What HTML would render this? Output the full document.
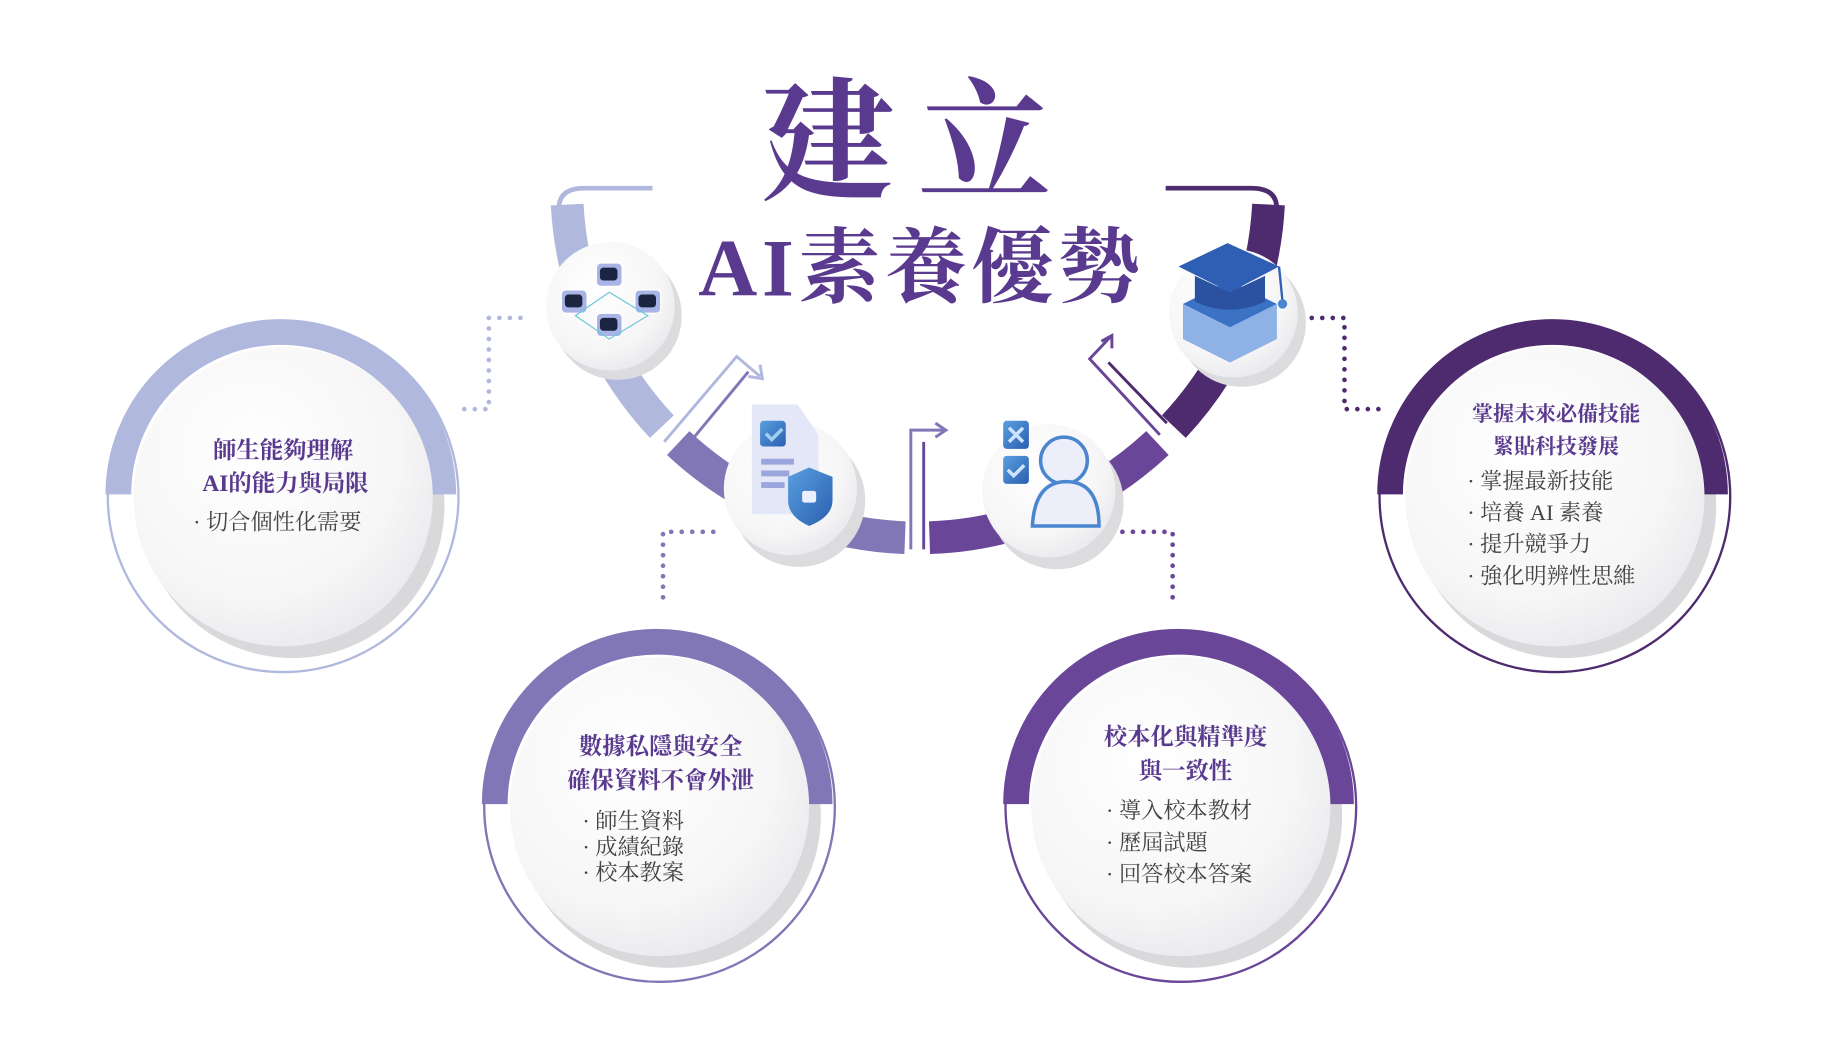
<!DOCTYPE html>
<html><head><meta charset="utf-8"><style>
html,body{margin:0;padding:0;background:#fff;}
svg{display:block}
.t{font-family:"Liberation Serif","Noto Serif CJK SC","Noto Serif CJK TC",serif;font-weight:700;fill:#5a3a8f;text-anchor:middle}
.b{font-family:"Liberation Serif","Noto Serif CJK SC","Noto Serif CJK TC",serif;fill:#444;font-size:19px}
</style></head><body>
<svg width="1824" height="1059" viewBox="0 0 1560 906" xmlns="http://www.w3.org/2000/svg">
<defs>
<radialGradient id="wg" cx="40%" cy="35%" r="70%"><stop offset="0" stop-color="#ffffff"/><stop offset="0.7" stop-color="#f6f6f7"/><stop offset="1" stop-color="#e9e9ec"/></radialGradient>
<linearGradient id="bl" x1="0" y1="0" x2="1" y2="1"><stop offset="0" stop-color="#5aa0e0"/><stop offset="1" stop-color="#2a5eb0"/></linearGradient>
</defs>

<!-- title -->
<text class="t" x="785" y="162" font-size="114" letter-spacing="20">建立</text>
<text class="t" x="788" y="253" font-size="70" letter-spacing="4">AI素養優勢</text>

<!-- U arc segments -->
<g fill="none" stroke-width="28">
<path d="M485 175 A300 300 0 0 0 566 365" stroke="#b0b8de"/>
<path d="M580 379 A300 300 0 0 0 774 460" stroke="#8176b6"/>
<path d="M795 460 A300 300 0 0 0 990 379" stroke="#6a4699"/>
<path d="M1004 365 A300 300 0 0 0 1085 175" stroke="#4e2a6e"/>
</g>
<path d="M478 178 Q478 161 500 161 L558 161" fill="none" stroke="#b0b8de" stroke-width="4"/>
<path d="M1092 178 Q1092 161 1070 161 L997 161" fill="none" stroke="#4e2a6e" stroke-width="4"/>

<!-- arrows -->
<g fill="none" stroke-width="2.5">
<path d="M568 378 L630 305 L650 322 M640 322 L652 324 L650 312" stroke="#b0b8de"/>
<path d="M582 388 L640 318" stroke="#8176b6"/>
<path d="M779 470 L779 368 L808 368 M800 362 L809 368 L800 374" stroke="#8176b6"/>
<path d="M790 470 L790 378" stroke="#6a4699"/>
<path d="M992 372 L932 307 L950 288 M942 292 L951 287 L951 298" stroke="#6a4699"/>
<path d="M998 362 L948 310" stroke="#4e2a6e"/>
</g>

<!-- dotted connectors -->
<g fill="none" stroke-width="4" stroke-linecap="round" stroke-dasharray="0 9">
<path d="M445 272 L418 272 L418 350 L388 350" stroke="#b0b8de"/>
<path d="M610 455 L567 455 L567 520" stroke="#8176b6"/>
<path d="M960 455 L1003 455 L1003 520" stroke="#6a4699"/>
<path d="M1122 272 L1150 272 L1150 350 L1180 350" stroke="#4e2a6e"/>
</g>

<!-- small icon circles -->
<g>
<circle cx="528" cy="270" r="55" fill="#dcdcdf"/><circle cx="522" cy="262" r="55" fill="url(#wg)"/>
<g fill="#a8b4e6" stroke="#fff"><rect x="510" y="225" width="22" height="20" rx="4"/><rect x="480" y="248" width="22" height="20" rx="4"/><rect x="543" y="248" width="22" height="20" rx="4"/><rect x="510" y="268" width="22" height="20" rx="4"/></g>
<g fill="#1b2440"><rect x="513" y="229" width="15" height="11" rx="3"/><rect x="483" y="252" width="15" height="11" rx="3"/><rect x="546" y="252" width="15" height="11" rx="3"/><rect x="513" y="272" width="15" height="11" rx="3"/></g>
<path d="M492 270 L521 290 L554 270 L521 250 Z" fill="none" stroke="#6cc7d8" stroke-width="1"/>

<circle cx="683" cy="428" r="57" fill="#dcdcdf"/><circle cx="676" cy="418" r="57" fill="url(#wg)"/>
<path d="M643 346 L682 346 L700 372 L700 440 L643 440 Z" fill="#e3e7f7"/>
<rect x="650" y="360" width="22" height="22" rx="3" fill="url(#bl)"/>
<path d="M655 371 l5 5 l9 -9" stroke="#9fd0f0" stroke-width="3" fill="none"/>
<g stroke="#9aa6dc" stroke-width="5"><path d="M651 395 h28 M651 405 h24 M651 415 h20"/></g>
<path d="M692 400 L712 408 L712 428 Q712 442 692 450 Q674 442 674 428 L674 408 Z" fill="url(#bl)"/>
<rect x="686" y="420" width="12" height="10" rx="2" fill="#e8f0ff"/>

<circle cx="904" cy="430" r="57" fill="#dcdcdf"/><circle cx="897" cy="420" r="57" fill="url(#wg)"/>
<rect x="858" y="360" width="22" height="24" rx="3" fill="url(#bl)"/><rect x="858" y="390" width="22" height="24" rx="3" fill="url(#bl)"/>
<path d="M863 366 l12 12 M875 366 l-12 12 M862 402 l5 5 l9 -9" stroke="#cfe2ff" stroke-width="3" fill="none"/>
<circle cx="910" cy="394" r="20" fill="#eceffa" stroke="#4a86d0" stroke-width="3"/>
<path d="M883 450 Q885 412 912 412 Q940 412 940 450 Z" fill="#eceffa" stroke="#4a86d0" stroke-width="3"/>

<circle cx="1062" cy="276" r="55" fill="#dcdcdf"/><circle cx="1055" cy="268" r="55" fill="url(#wg)"/>
<path d="M1012 260 L1052 240 L1092 260 L1092 290 L1052 310 L1012 290 Z" fill="#3b72c4"/>
<path d="M1012 260 L1052 280 L1092 260 L1092 290 L1052 310 L1012 290 Z" fill="#8fb2e6"/>
<path d="M1008 228 L1050 208 L1094 228 L1052 250 Z" fill="#2e5fb4"/>
<path d="M1022 236 L1022 258 Q1052 272 1082 258 L1082 236 L1052 250 Z" fill="#2a52a0"/>
<line x1="1094" y1="228" x2="1097" y2="258" stroke="#2e5fb4" stroke-width="2"/><circle cx="1097" cy="260" r="4" fill="#4a86d0"/>
</g>

<!-- big circles -->
<g>
<circle cx="250" cy="433" r="130" fill="#d9d9dc"/>
<circle cx="242" cy="425" r="150" fill="none" stroke="#b0b8de" stroke-width="2"/>
<path d="M101 423 A139 139 0 0 1 379 423" fill="none" stroke="#b0b8de" stroke-width="22"/>
<circle cx="242" cy="425" r="128" fill="url(#wg)"/>
<text class="t" x="242" y="392" font-size="20">師生能夠理解</text>
<text class="t" x="244" y="420" font-size="20">AI的能力與局限</text>
<text class="b" x="165" y="453">·  切合個性化需要</text>

<circle cx="572" cy="698" r="130" fill="#d9d9dc"/>
<circle cx="564" cy="690" r="150" fill="none" stroke="#8176b6" stroke-width="2"/>
<path d="M423 688 A139 139 0 0 1 701 688" fill="none" stroke="#8176b6" stroke-width="22"/>
<circle cx="564" cy="690" r="128" fill="url(#wg)"/>
<text class="t" x="565" y="645" font-size="20">數據私隱與安全</text>
<text class="t" x="565" y="674" font-size="20">確保資料不會外泄</text>
<text class="b" x="498" y="709">·  師生資料</text>
<text class="b" x="498" y="731">·  成績紀錄</text>
<text class="b" x="498" y="753">·  校本教案</text>

<circle cx="1018" cy="698" r="130" fill="#d9d9dc"/>
<circle cx="1010" cy="690" r="150" fill="none" stroke="#6a4699" stroke-width="2"/>
<path d="M869 688 A139 139 0 0 1 1147 688" fill="none" stroke="#6a4699" stroke-width="22"/>
<circle cx="1010" cy="690" r="128" fill="url(#wg)"/>
<text class="t" x="1014" y="637" font-size="20">校本化與精準度</text>
<text class="t" x="1014" y="666" font-size="20">與一致性</text>
<text class="b" x="946" y="700">·  導入校本教材</text>
<text class="b" x="946" y="727">·  歷屆試題</text>
<text class="b" x="946" y="754">·  回答校本答案</text>

<circle cx="1338" cy="433" r="130" fill="#d9d9dc"/>
<circle cx="1330" cy="425" r="150" fill="none" stroke="#4e2a6e" stroke-width="2"/>
<path d="M1189 423 A139 139 0 0 1 1467 423" fill="none" stroke="#4e2a6e" stroke-width="22"/>
<circle cx="1330" cy="425" r="128" fill="url(#wg)"/>
<text class="t" x="1331" y="360" font-size="18">掌握未來必備技能</text>
<text class="t" x="1331" y="388" font-size="18">緊貼科技發展</text>
<text class="b" x="1255" y="418">·  掌握最新技能</text>
<text class="b" x="1255" y="445">·  培養 AI 素養</text>
<text class="b" x="1255" y="472">·  提升競爭力</text>
<text class="b" x="1255" y="499">·  強化明辨性思維</text>
</g>
</svg>
</body></html>
